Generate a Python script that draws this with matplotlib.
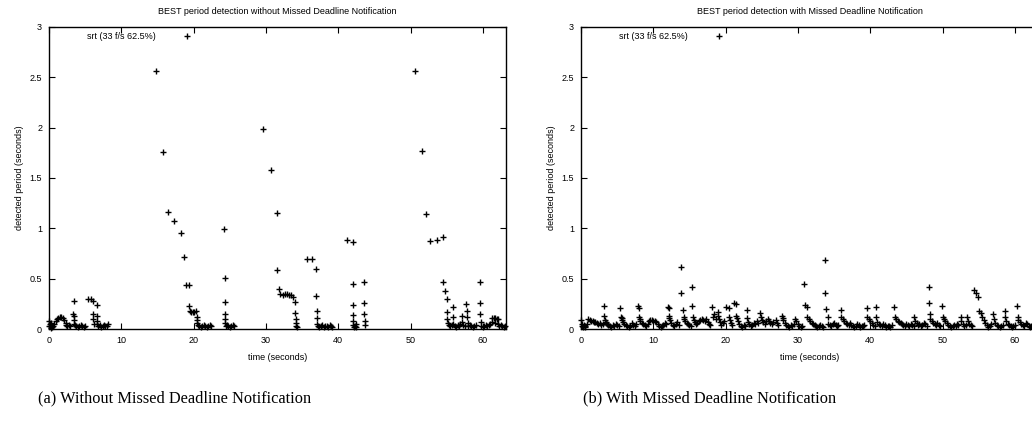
import matplotlib.pyplot as plt

# left panel: without missed deadline notification
left_time = [
    0.0, 0.0, 0.1, 0.2, 0.25, 0.3, 0.4, 0.5, 0.7, 0.9, 1.1, 1.3, 1.5, 1.7, 1.9, 2.1, 2.3, 2.4, 2.5, 2.7, 2.9,
    3.3, 3.4, 3.4, 3.4, 3.5, 3.6, 3.8, 4.0, 4.2, 4.4, 4.6, 4.8, 5.0,
    5.4, 5.8, 6.1, 6.1, 6.1, 6.2, 6.6, 6.6, 6.6, 6.7, 6.8, 7.0, 7.2, 7.4, 7.6, 7.8, 8.0, 8.1,
    14.8, 15.8, 16.4, 17.3, 18.2, 18.6, 18.9, 19.3, 19.3,
    19.5, 19.7, 19.9, 20.1, 20.3, 20.4, 20.5, 20.5, 20.6, 20.8, 21.0, 21.2, 21.4, 21.6, 21.8, 22.0, 22.2, 22.4,
    24.2, 24.3, 24.3, 24.3, 24.4, 24.4, 24.5, 24.6, 24.8, 25.0, 25.2, 25.4, 25.6,
    29.6, 30.7, 31.5, 31.5, 31.8, 32.0, 32.3, 32.6, 32.9, 33.2, 33.5, 33.8, 34.0, 34.0, 34.1, 34.1, 34.2, 34.3,
    35.7, 36.4, 36.9, 36.9, 37.0, 37.0, 37.1, 37.2, 37.4, 37.6, 37.8, 38.0, 38.2, 38.4, 38.6, 38.8, 39.0, 39.2,
    41.2, 42.0, 42.0, 42.0, 42.0, 42.1, 42.1, 42.2, 42.3, 42.4, 42.5,
    43.6, 43.6, 43.6, 43.7, 43.7,
    50.6, 51.6, 52.1, 52.7, 53.7, 54.5, 54.5, 54.8, 55.0, 55.0, 55.1, 55.2, 55.3,
    55.5, 55.7, 55.9, 55.9, 55.9, 56.1, 56.3, 56.5, 56.7, 56.9, 57.1, 57.1, 57.3, 57.5,
    57.7, 57.8, 57.8, 57.9, 58.0, 58.2, 58.4, 58.6, 58.8, 59.0,
    59.6, 59.6, 59.6, 59.7, 59.8, 60.0, 60.2, 60.4, 60.6, 60.8, 61.0,
    61.3, 61.5, 61.7, 61.9, 62.1, 61.3, 61.7, 62.1, 62.3, 62.5, 62.7, 62.9, 63.0,
]
left_period = [
    0.08, 0.03, 0.05, 0.03, 0.01, 0.06, 0.02, 0.03, 0.05, 0.08, 0.10, 0.11, 0.12, 0.12, 0.11, 0.09, 0.06, 0.04, 0.03, 0.04, 0.03,
    0.15, 0.28, 0.13, 0.09, 0.05, 0.04, 0.03, 0.02, 0.03, 0.04, 0.03, 0.02, 0.03,
    0.30, 0.30, 0.28, 0.15, 0.10, 0.05, 0.24, 0.13, 0.08, 0.05, 0.03, 0.04, 0.02, 0.03, 0.04, 0.03, 0.03, 0.05,
    2.56, 1.76, 1.16, 1.07, 0.95, 0.72, 0.44, 0.44, 0.23,
    0.18, 0.17, 0.17, 0.17, 0.18, 0.12, 0.09, 0.06, 0.04, 0.03, 0.02, 0.03, 0.04, 0.03, 0.02, 0.03, 0.04, 0.03,
    0.99, 0.51, 0.27, 0.15, 0.10, 0.06, 0.03, 0.04, 0.03, 0.02, 0.03, 0.04, 0.03,
    1.99, 1.58, 1.15, 0.59, 0.40, 0.35, 0.34, 0.35, 0.35, 0.34, 0.34, 0.32, 0.27, 0.16, 0.10, 0.06, 0.03, 0.02,
    0.70, 0.70, 0.60, 0.33, 0.18, 0.11, 0.05, 0.03, 0.02, 0.03, 0.04, 0.02, 0.03, 0.03, 0.02, 0.04, 0.03, 0.02,
    0.88, 0.86, 0.45, 0.24, 0.14, 0.08, 0.04, 0.02, 0.03, 0.05, 0.02,
    0.47, 0.26, 0.15, 0.08, 0.04,
    2.56, 1.77, 1.14, 0.87, 0.88, 0.91, 0.47, 0.38, 0.30, 0.17, 0.10, 0.06, 0.04,
    0.03, 0.04, 0.22, 0.12, 0.05, 0.03, 0.02, 0.04, 0.03, 0.05, 0.13, 0.07, 0.04, 0.03,
    0.25, 0.18, 0.12, 0.06, 0.03, 0.04, 0.03, 0.02, 0.03, 0.04,
    0.47, 0.26, 0.15, 0.07, 0.03, 0.02, 0.03, 0.04, 0.03, 0.04, 0.05,
    0.11, 0.11, 0.11, 0.10, 0.10, 0.07, 0.06, 0.05, 0.03, 0.04, 0.03, 0.02, 0.03,
]

# right panel: with missed deadline notification
right_time = [
    0.0, 0.1, 0.2, 0.3, 0.4, 0.5, 0.6, 0.8, 1.0, 1.2, 1.4, 1.6, 1.8, 2.0, 2.2, 2.4, 2.6, 2.8, 3.0,
    3.2, 3.2, 3.3, 3.4, 3.5, 3.6, 3.8, 4.0, 4.2, 4.4, 4.6, 4.8, 5.0, 5.2,
    5.4, 5.5, 5.6, 5.7, 5.8, 6.0, 6.2, 6.4, 6.6, 6.8, 7.0, 7.2, 7.4, 7.6,
    7.9, 8.0, 8.0, 8.1, 8.2, 8.4, 8.6, 8.8, 9.0, 9.2, 9.4,
    9.6, 9.8, 10.0, 10.2, 10.4, 10.6, 10.8, 11.0, 11.2, 11.4, 11.6, 11.8,
    12.0, 12.1, 12.1, 12.2, 12.3, 12.5, 12.7, 12.9, 13.1, 13.3, 13.5,
    13.8, 13.8, 14.1, 14.2, 14.3, 14.4, 14.6, 14.8, 15.0, 15.2,
    15.4, 15.4, 15.5, 15.6, 15.7, 15.9, 16.1, 16.3, 16.5, 16.7, 16.9, 17.1, 17.3, 17.5, 17.7, 17.9,
    18.1, 18.2, 18.4, 18.6, 18.9, 19.0, 19.1, 19.2, 19.4, 19.6, 19.8,
    20.1, 20.4, 20.5, 20.6, 20.7, 20.9, 21.1, 21.4, 21.5, 21.6, 21.7, 21.9, 22.1, 22.3, 22.5, 22.7,
    22.9, 23.0, 23.1, 23.3, 23.5, 23.7, 23.9, 24.1, 24.3, 24.5,
    24.8, 24.9, 25.0, 25.2, 25.4, 25.6, 25.8, 26.0, 26.2, 26.4, 26.6, 26.9, 27.1, 27.3,
    27.8, 27.9, 28.0, 28.2, 28.4, 28.6, 28.8, 29.0, 29.2, 29.4, 29.6, 29.8, 30.0, 30.2, 30.4, 30.6,
    30.9, 31.0, 31.2, 31.3, 31.5, 31.7, 31.9, 32.1, 32.3, 32.5, 32.7, 32.9, 33.1, 33.3, 33.5,
    33.8, 33.8, 33.9, 34.1, 34.2, 34.4, 34.6, 34.8, 35.0, 35.2, 35.4, 35.6,
    35.9, 36.0, 36.2, 36.4, 36.6, 36.8, 37.0, 37.2, 37.4, 37.6, 37.8, 38.0, 38.2, 38.4, 38.6, 38.8, 39.0, 39.2,
    39.5, 39.6, 39.8, 40.0, 40.2, 40.4, 40.6, 40.8, 40.8, 41.0, 41.2, 41.4,
    41.6, 41.8, 42.0, 42.2, 42.4, 42.6, 42.8, 43.0,
    43.3, 43.4, 43.6, 43.8, 44.0, 44.2, 44.4, 44.6, 44.8, 45.0, 45.2, 45.4, 45.6, 45.8, 46.0,
    46.1, 46.2, 46.4, 46.6, 46.8, 47.0, 47.2, 47.4, 47.6, 47.8,
    48.1, 48.1, 48.2, 48.3, 48.5, 48.7, 48.9, 49.1, 49.3, 49.5, 49.7,
    49.9, 50.0, 50.2, 50.4, 50.6, 50.8, 51.0, 51.2, 51.4, 51.6, 51.8, 52.0, 52.2,
    52.5, 52.6, 52.8, 53.0, 53.2, 53.4, 53.5, 53.7, 53.9, 54.1,
    54.3, 54.6, 54.9, 55.0, 55.3, 55.5, 55.7, 55.9, 56.1, 56.3, 56.5, 56.7,
    57.0, 57.1, 57.3, 57.5, 57.7, 57.9, 58.1, 58.3,
    58.6, 58.7, 58.8, 59.0, 59.2, 59.4, 59.6, 59.8, 60.0,
    60.3, 60.4, 60.5, 60.7, 60.9, 61.1, 61.3, 61.5, 61.7, 61.9, 62.1, 62.3, 62.5, 62.7, 62.9,
]
right_period = [
    0.09, 0.05, 0.03, 0.02, 0.04, 0.03, 0.02, 0.05, 0.10, 0.09, 0.08, 0.08, 0.07, 0.07, 0.06, 0.05, 0.06, 0.04, 0.05,
    0.23, 0.13, 0.09, 0.07, 0.06, 0.05, 0.04, 0.03, 0.02, 0.04, 0.03, 0.05, 0.04, 0.03,
    0.21, 0.12, 0.11, 0.09, 0.07, 0.05, 0.04, 0.03, 0.02, 0.03, 0.06, 0.04, 0.03, 0.05,
    0.23, 0.21, 0.12, 0.10, 0.08, 0.06, 0.05, 0.04, 0.03, 0.05, 0.08,
    0.09, 0.09, 0.08, 0.08, 0.07, 0.05, 0.03, 0.02, 0.03, 0.04, 0.06, 0.05,
    0.22, 0.21, 0.13, 0.11, 0.09, 0.06, 0.04, 0.03, 0.05, 0.07, 0.04,
    0.62, 0.36, 0.19, 0.12, 0.10, 0.08, 0.06, 0.05, 0.04, 0.03,
    0.42, 0.23, 0.12, 0.09, 0.07, 0.05, 0.06, 0.08, 0.09, 0.10, 0.09, 0.08, 0.10, 0.07, 0.05, 0.04,
    0.22, 0.12, 0.15, 0.10, 0.17, 0.13, 0.10, 0.07, 0.04, 0.06, 0.08,
    0.22, 0.21, 0.12, 0.09, 0.06, 0.04, 0.26, 0.25, 0.13, 0.11, 0.08, 0.05, 0.03, 0.02, 0.04, 0.03,
    0.19, 0.11, 0.07, 0.05, 0.03, 0.04, 0.06, 0.05, 0.08, 0.06,
    0.16, 0.12, 0.09, 0.07, 0.05, 0.08, 0.10, 0.08, 0.06, 0.05, 0.07, 0.09, 0.06, 0.04,
    0.13, 0.11, 0.09, 0.06, 0.04, 0.03, 0.02, 0.04, 0.03, 0.05, 0.10, 0.08, 0.05, 0.03, 0.02, 0.03,
    0.45, 0.24, 0.22, 0.12, 0.10, 0.08, 0.06, 0.05, 0.04, 0.03, 0.02, 0.03, 0.04, 0.03, 0.02,
    0.69, 0.36, 0.20, 0.12, 0.05, 0.04, 0.03, 0.05, 0.06, 0.04, 0.03, 0.04,
    0.19, 0.12, 0.10, 0.08, 0.06, 0.05, 0.04, 0.06, 0.04, 0.03, 0.02, 0.03, 0.05, 0.04, 0.02, 0.03, 0.03, 0.04,
    0.21, 0.12, 0.10, 0.08, 0.06, 0.04, 0.03, 0.22, 0.12, 0.07, 0.05, 0.04,
    0.03, 0.05, 0.04, 0.02, 0.03, 0.03, 0.02, 0.04,
    0.22, 0.12, 0.10, 0.08, 0.07, 0.06, 0.05, 0.04, 0.03, 0.05, 0.04, 0.03, 0.05, 0.04, 0.03,
    0.12, 0.08, 0.06, 0.04, 0.05, 0.03, 0.04, 0.06, 0.05, 0.03,
    0.42, 0.26, 0.15, 0.10, 0.08, 0.06, 0.05, 0.04, 0.06, 0.04, 0.03,
    0.23, 0.12, 0.10, 0.08, 0.06, 0.04, 0.03, 0.02, 0.03, 0.04, 0.03, 0.05, 0.04,
    0.12, 0.08, 0.05, 0.03, 0.04, 0.12, 0.08, 0.05, 0.04, 0.03,
    0.39, 0.36, 0.32, 0.18, 0.16, 0.12, 0.09, 0.06, 0.04, 0.02, 0.03, 0.05,
    0.15, 0.10, 0.06, 0.04, 0.03, 0.02, 0.03, 0.04,
    0.18, 0.12, 0.08, 0.05, 0.04, 0.03, 0.02, 0.03, 0.04,
    0.23, 0.12, 0.09, 0.07, 0.05, 0.04, 0.03, 0.06, 0.05, 0.03, 0.02, 0.03, 0.04, 0.03, 0.02,
]

TITLES = ['BEST period detection without Missed Deadline Notification',
          'BEST period detection with Missed Deadline Notification']
CAPTIONS = ['(a) Without Missed Deadline Notification',
            '(b) With Missed Deadline Notification']
SERIES_LABEL = 'srt (33 f/s 62.5%)'
X_TICKS = [0, 10, 20, 30, 40, 50, 60]
Y_TICKS = [0, 0.5, 1, 1.5, 2, 2.5, 3]

SMALL = 6.5

plt.rcParams['font.family'] = ['Liberation Sans', 'DejaVu Sans']

fig = plt.figure(figsize=(10.32, 4.23), dpi=100)
ax_left = fig.add_axes([0.0475, 0.2222, 0.4428, 0.714])
ax_right = fig.add_axes([0.563, 0.2222, 0.4428, 0.714])

panels = [(ax_left, left_time, left_period), (ax_right, right_time, right_period)]

for i, (ax, t, p) in enumerate(panels):
    ax.plot(t, p, linestyle='none', marker='+', markersize=4.6, markeredgewidth=1.0,
            color='black', label=SERIES_LABEL, clip_on=False)
    ax.set_xlim(0, 63.2)
    ax.set_ylim(0, 3)
    ax.set_xticks(X_TICKS)
    ax.set_yticks(Y_TICKS)
    ax.set_yticklabels(['0', '0.5', '1', '1.5', '2', '2.5', '3'])
    ax.tick_params(direction='in', top=True, right=True, length=4, width=0.8,
                   labelsize=SMALL, pad=5, colors='black')
    for spine in ax.spines.values():
        spine.set_linewidth(1.0)
    ax.set_title(TITLES[i], fontsize=SMALL, pad=9)
    ax.set_xlabel('time (seconds)', fontsize=SMALL, labelpad=6)
    ax.set_ylabel('detected period (seconds)', fontsize=SMALL, labelpad=4)
    ax.legend(loc='upper left', bbox_to_anchor=(0.072, 1.0), markerfirst=False,
              frameon=False, fontsize=SMALL, handlelength=2, handletextpad=2.4,
              borderaxespad=0.2)
    fig.text([0.169, 0.688][i], 0.059, CAPTIONS[i], ha='center', va='center',
             fontsize=11.8, family='Liberation Serif')

fig.savefig('out.png', dpi=100)
